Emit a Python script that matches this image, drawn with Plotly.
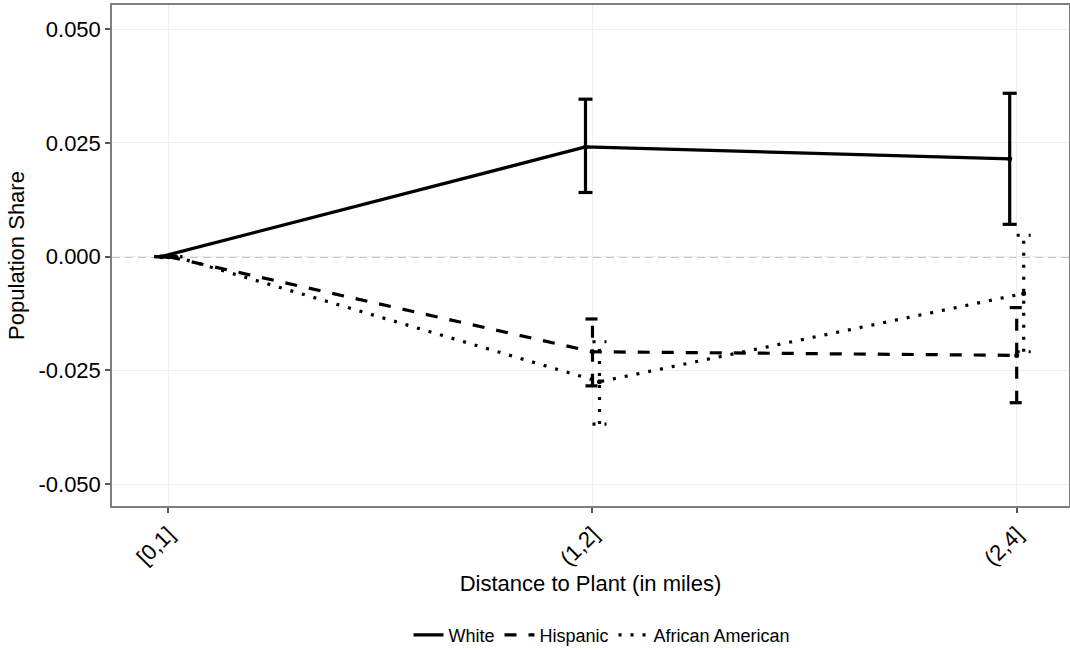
import plotly.graph_objects as go

# ---- data ----
categories = ["[0,1]", "(1,2]", "(2,4]"]
groups = ["White", "Hispanic", "African American"]

white = [0.0, 0.0241, 0.0215]
white_lo = [0.0, 0.0141, 0.0071]
white_hi = [0.0, 0.0346, 0.0359]

hispanic = [0.0, -0.0209, -0.0217]
hispanic_lo = [0.0, -0.0284, -0.0321]
hispanic_hi = [0.0, -0.0137, -0.0112]

african_american = [0.0, -0.0275, -0.0081]
african_american_lo = [0.0, -0.0368, -0.0209]
african_american_hi = [0.0, -0.0187, 0.0047]

y_ticks = [-0.050, -0.025, 0.000, 0.025, 0.050]
y_ticklabels = ["-0.050", "-0.025", "0.000", "0.025", "0.050"]

# ---- styling ----
DODGE = [-0.0165, 0.0, 0.0165]
CAP = 0.0165
DASHES = ["solid", "12px,12px", "3px,9px"]
LW = 3.2
FONT = "Liberation Sans, Arial, Helvetica, sans-serif"

series = [
    (white, white_lo, white_hi),
    (hispanic, hispanic_lo, hispanic_hi),
    (african_american, african_american_lo, african_american_hi),
]

fig = go.Figure()

base_x = list(range(1, len(categories) + 1))

for gi, (name, (vals, lo, hi)) in enumerate(zip(groups, series)):
    xs = [b + DODGE[gi] for b in base_x]
    # error bars drawn as line segments so they carry the group's linetype
    ex, ey = [], []
    for x, l, h in zip(xs, lo, hi):
        ex += [x, x, None, x - CAP, x + CAP, None, x - CAP, x + CAP, None]
        ey += [l, h, None, h, h, None, l, l, None]
    fig.add_trace(go.Scatter(
        x=ex, y=ey, mode="lines", showlegend=False, hoverinfo="skip",
        line=dict(color="black", width=LW, dash=DASHES[gi]),
    ))
    fig.add_trace(go.Scatter(
        x=xs, y=vals, mode="lines", name=name,
        line=dict(color="black", width=LW, dash=DASHES[gi]),
    ))
    fig.add_trace(go.Scatter(
        x=xs, y=vals, mode="markers", showlegend=False, hoverinfo="skip",
        marker=dict(color="black", size=5),
    ))

fig.add_hline(y=0, line=dict(color="#8a8a8a", width=1.5, dash="8px,5px"), layer="below")

fig.update_layout(
    width=1070, height=650,
    margin=dict(l=112, r=1, t=5, b=144, autoexpand=False),
    paper_bgcolor="white", plot_bgcolor="white",
    font=dict(family=FONT, color="black", size=22),
    showlegend=True,
    legend=dict(
        orientation="h", x=0.512, xanchor="center", y=-0.258, yanchor="middle",
        font=dict(size=18), bgcolor="rgba(0,0,0,0)", itemwidth=30,
    ),
)

fig.update_xaxes(
    range=[0.8673, 3.1233],
    tickmode="array", tickvals=base_x, ticktext=categories,
    tickangle=-45,
    showgrid=True, gridcolor="#efefef", gridwidth=1,
    zeroline=False,
    showline=True, mirror=True, linecolor="#7f7f7f", linewidth=1.5,
    ticks="outside", ticklen=5, tickwidth=1.5, tickcolor="#555555",
    tickfont=dict(size=22, color="black"),
    title=dict(text="Distance to Plant (in miles)", font=dict(size=22), standoff=6),
)

fig.update_yaxes(
    range=[-0.0548, 0.0553],
    tickmode="array", tickvals=y_ticks, ticktext=y_ticklabels,
    showgrid=True, gridcolor="#efefef", gridwidth=1,
    zeroline=False,
    showline=True, mirror=True, linecolor="#7f7f7f", linewidth=1.5,
    ticks="outside", ticklen=5, tickwidth=1.5, tickcolor="#555555",
    tickfont=dict(size=22, color="black"),
    title=dict(text="Population Share", font=dict(size=22), standoff=8),
)

fig.write_html("out.html")
